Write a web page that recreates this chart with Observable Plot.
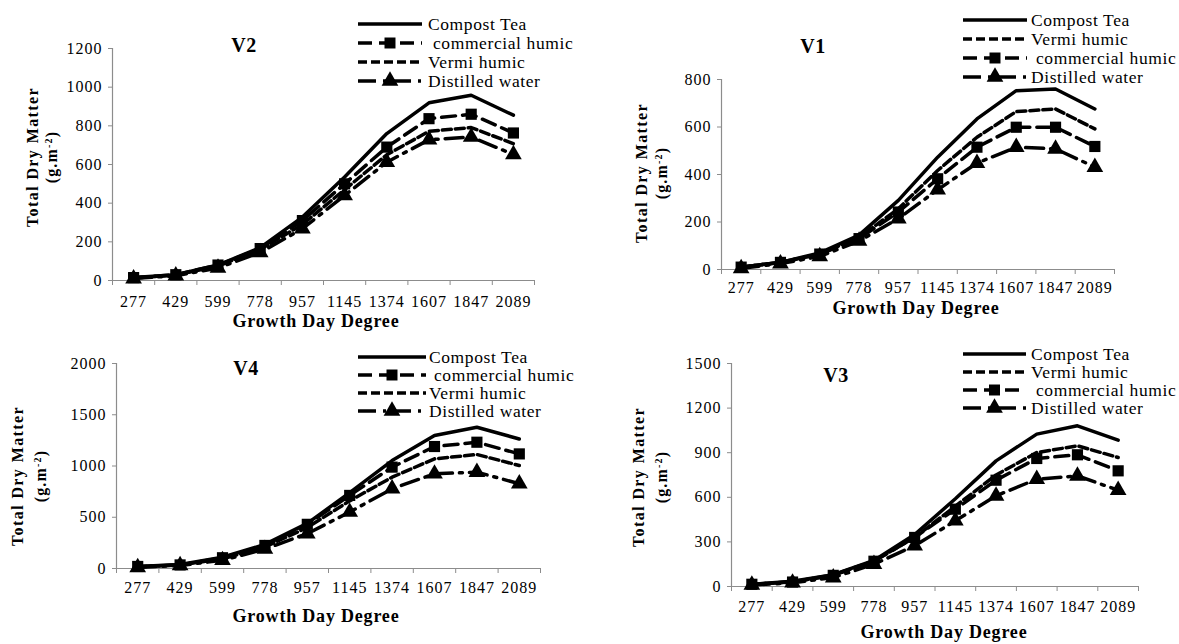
<!DOCTYPE html>
<html>
<head>
<meta charset="utf-8">
<script src="https://cdn.jsdelivr.net/npm/d3@7"></script>
<script src="https://cdn.jsdelivr.net/npm/@observablehq/plot@0.6"></script>
<style>
  html, body { margin: 0; padding: 0; background: #fff; }
  #wrap { position: relative; width: 1179px; height: 644px; overflow: hidden; background: #fff; }
  .panel { position: absolute; }
  .panel svg { overflow: visible; }
  .panel svg text { font-family: 'Liberation Serif', 'Times New Roman', serif; }
  g[aria-label="y-axis tick"], g[aria-label="x-axis tick"] { stroke: #8c8c8c; }
</style>
</head>
<body>
<div id="wrap"></div>
<script>
// ---------- data ----------
const gdd = ["277", "429", "599", "778", "957", "1145", "1374", "1607", "1847", "2089"];
const seriesNames = ["Compost Tea", " commercial humic", "Vermi humic", "Distilled water"];

// V2
const v2Compost    = [15, 30, 80, 170, 328, 535, 760, 919, 958, 855];
const v2Commercial = [15, 30, 80, 165, 310, 500, 690, 837, 860, 763];
const v2Vermi      = [12, 28, 75, 160, 290, 470, 650, 772, 791, 708];
const v2Distilled  = [10, 25, 65, 145, 268, 440, 612, 728, 742, 652];
const v2Ticks = [0, 200, 400, 600, 800, 1000, 1200];

// V1
const v1Compost    = [10, 30, 70, 145, 291, 473, 634, 753, 760, 676];
const v1Vermi      = [10, 30, 65, 135, 256, 417, 557, 665, 676, 592];
const v1Commercial = [10, 30, 65, 130, 242, 382, 515, 599, 599, 518];
const v1Distilled  = [5, 25, 55, 120, 214, 336, 448, 515, 508, 431];
const v1Ticks = [0, 200, 400, 600, 800];

// V4
const v4Compost    = [20, 40, 110, 235, 440, 740, 1053, 1297, 1378, 1264];
const v4Commercial = [20, 35, 105, 225, 431, 713, 989, 1190, 1232, 1118];
const v4Vermi      = [15, 35, 95, 210, 400, 660, 891, 1070, 1112, 1005];
const v4Distilled  = [10, 30, 80, 190, 340, 551, 778, 924, 940, 827];
const v4Ticks = [0, 500, 1000, 1500, 2000];

// V3
const v3Compost    = [15, 35, 80, 175, 350, 590, 845, 1025, 1081, 984];
const v3Vermi      = [15, 32, 78, 172, 330, 540, 750, 901, 946, 868];
const v3Commercial = [15, 30, 75, 170, 330, 520, 715, 861, 886, 778];
const v3Distilled  = [10, 25, 60, 150, 274, 442, 610, 722, 744, 648];
const v3Ticks = [0, 300, 600, 900, 1200, 1500];

// ---------- styles per series (index into seriesNames) ----------
const seriesStyle = [
  { dash: null,         symbol: null },        // Compost Tea
  { dash: "14,7",       symbol: "square" },    // commercial humic
  { dash: "9,4",        symbol: null },        // Vermi humic
  { dash: "18,7,3,7",   symbol: "triangle" }   // Distilled water
];

// ---------- panel layout ----------
const panels = [
  { title: "V2", left: 0, top: 0, width: 590, height: 330,
    mt: 48, mb: 50, ml: 112, mr: 56, yMax: 1200, ticks: v2Ticks, xPad: 15,
    series: [v2Compost, v2Commercial, v2Vermi, v2Distilled], legendOrder: [0, 1, 2, 3],
    titleX: 244, titleY: 45, legX1: 358, legX2: 422, legTextX: 428, legY: [24, 43, 62, 81],
    yLab1X: 32, yLab2X: 51, yLabY: 157, xLabX: 316, xLabY: 327 },
  { title: "V1", left: 590, top: 0, width: 589, height: 330,
    mt: 79, mb: 61, ml: 131, mr: 65, yMax: 800, ticks: v1Ticks, xPad: 12,
    series: [v1Compost, v1Commercial, v1Vermi, v1Distilled], legendOrder: [0, 2, 1, 3],
    titleX: 223, titleY: 46, legX1: 373, legX2: 437, legTextX: 441, legY: [20, 39, 58, 77],
    yLab1X: 51, yLab2X: 71, yLabY: 173, xLabX: 326, xLabY: 314 },
  { title: "V4", left: 0, top: 330, width: 590, height: 314,
    mt: 33, mb: 76, ml: 116, mr: 50, yMax: 2000, ticks: v4Ticks, xPad: 13,
    series: [v4Compost, v4Commercial, v4Vermi, v4Distilled], legendOrder: [0, 1, 2, 3],
    titleX: 246, titleY: 38, legX1: 358, legX2: 426, legTextX: 429, legY: [27, 45, 63, 81],
    yLab1X: 17, yLab2X: 40, yLabY: 146, xLabX: 316, xLabY: 292 },
  { title: "V3", left: 590, top: 330, width: 589, height: 314,
    mt: 33, mb: 58, ml: 141, mr: 41, yMax: 1500, ticks: v3Ticks, xPad: 14,
    series: [v3Compost, v3Commercial, v3Vermi, v3Distilled], legendOrder: [0, 2, 1, 3],
    titleX: 246, titleY: 45, legX1: 373, legX2: 436, legTextX: 441, legY: [24, 42, 60, 78],
    yLab1X: 48, yLab2X: 71, yLabY: 147, xLabX: 354, xLabY: 308 }
];

const serif = "'Liberation Serif', 'Times New Roman', serif";
const wrap = document.getElementById("wrap");

for (const p of panels) {
  const rowsOf = vals => vals.map((v, i) => ({ x: i + 0.5, y: v }));
  const marks = [
    Plot.axisY(p.ticks, { tickSize: 4, tickPadding: 6, fontSize: 16, label: null, tickFormat: d => String(d) }),
    Plot.axisX(gdd.map((_, i) => i + 0.5), { tickSize: 0, tickPadding: p.xPad, label: null,
      tickFormat: d => gdd[Math.floor(d)], fontSize: 16 }),
    Plot.axisX(d3.range(0, gdd.length + 1), { tickSize: 5, label: null, tickFormat: () => "" }),
    Plot.ruleY([0], { stroke: "#8c8c8c", strokeWidth: 1.2 }),
    Plot.ruleX([0], { stroke: "#8c8c8c", strokeWidth: 1.2 })
  ];
  // draw in reverse so compost is on top
  [3, 2, 1, 0].forEach(si => {
    const st = seriesStyle[si];
    const data = rowsOf(p.series[si]);
    marks.push(Plot.line(data, { x: "x", y: "y", stroke: "#000", strokeWidth: 3.5,
      strokeDasharray: st.dash || undefined, strokeLinejoin: "round" }));
    if (st.symbol) {
      marks.push(Plot.dot(data, { x: "x", y: "y", symbol: st.symbol, fill: "#000", stroke: "none",
        r: st.symbol === "square" ? 6.3 : 6.2 }));
    }
  });

  const svg = Plot.plot({
    width: p.width, height: p.height,
    marginTop: p.mt, marginBottom: p.mb, marginLeft: p.ml, marginRight: p.mr,
    x: { domain: [0, gdd.length], axis: null, label: null },
    y: { domain: [0, p.yMax], axis: null, label: null },
    style: { fontFamily: serif, fontSize: "16px", letterSpacing: "1px", color: "#000", background: "transparent", overflow: "visible" },
    marks
  });

  const div = document.createElement("div");
  div.className = "panel";
  div.style.left = p.left + "px";
  div.style.top = p.top + "px";
  div.appendChild(svg);
  wrap.appendChild(div);

  const s = d3.select(svg);
  // title
  s.append("text").attr("x", p.titleX).attr("y", p.titleY).attr("dy", "0.35em")
    .attr("text-anchor", "middle").style("font", `bold 20px ${serif}`).style("letter-spacing", "0.5px")
    .attr("fill", "#000").text(p.title);

  // legend
  const lg = s.append("g");
  p.legendOrder.forEach((si, k) => {
    const st = seriesStyle[si];
    const y = p.legY[k];
    lg.append("line").attr("x1", p.legX1).attr("x2", p.legX2).attr("y1", y).attr("y2", y)
      .attr("stroke", "#000").attr("stroke-width", 3.5)
      .attr("stroke-dasharray", st.dash || null);
    if (st.symbol) {
      const sym = st.symbol === "square" ? d3.symbolSquare : d3.symbolTriangle;
      lg.append("path").attr("d", d3.symbol(sym, Math.PI * 6.2 * 6.2)())
        .attr("transform", `translate(${(p.legX1 + p.legX2) / 2},${y})`).attr("fill", "#000");
    }
    lg.append("text").attr("x", p.legTextX).attr("y", y).attr("dy", "0.33em")
      .attr("text-anchor", "start")
      .style("font", `17.5px ${serif}`).style("letter-spacing", "0.6px").style("white-space", "pre")
      .attr("fill", "#000").text(seriesNames[si]);
  });

  // y label
  s.append("text").attr("transform", `translate(${p.yLab1X},${p.yLabY}) rotate(-90)`)
    .attr("text-anchor", "middle").attr("dy", "0.35em")
    .style("font", `bold 16px ${serif}`).style("letter-spacing", "1.4px").attr("fill", "#000")
    .text("Total Dry Matter");
  const y2 = s.append("text").attr("transform", `translate(${p.yLab2X},${p.yLabY}) rotate(-90)`)
    .attr("text-anchor", "middle").attr("dy", "0.35em")
    .style("font", `bold 16px ${serif}`).style("letter-spacing", "1.2px").attr("fill", "#000");
  y2.append("tspan").text("(g.m");
  y2.append("tspan").attr("baseline-shift", "super").style("font-size", "10px").text("-2");
  y2.append("tspan").text(")");

  // x label
  s.append("text").attr("x", p.xLabX).attr("y", p.xLabY).attr("text-anchor", "middle")
    .style("font", `bold 18px ${serif}`).style("letter-spacing", "0.8px").attr("fill", "#000")
    .text("Growth Day Degree");
}
</script>
</body>
</html>
